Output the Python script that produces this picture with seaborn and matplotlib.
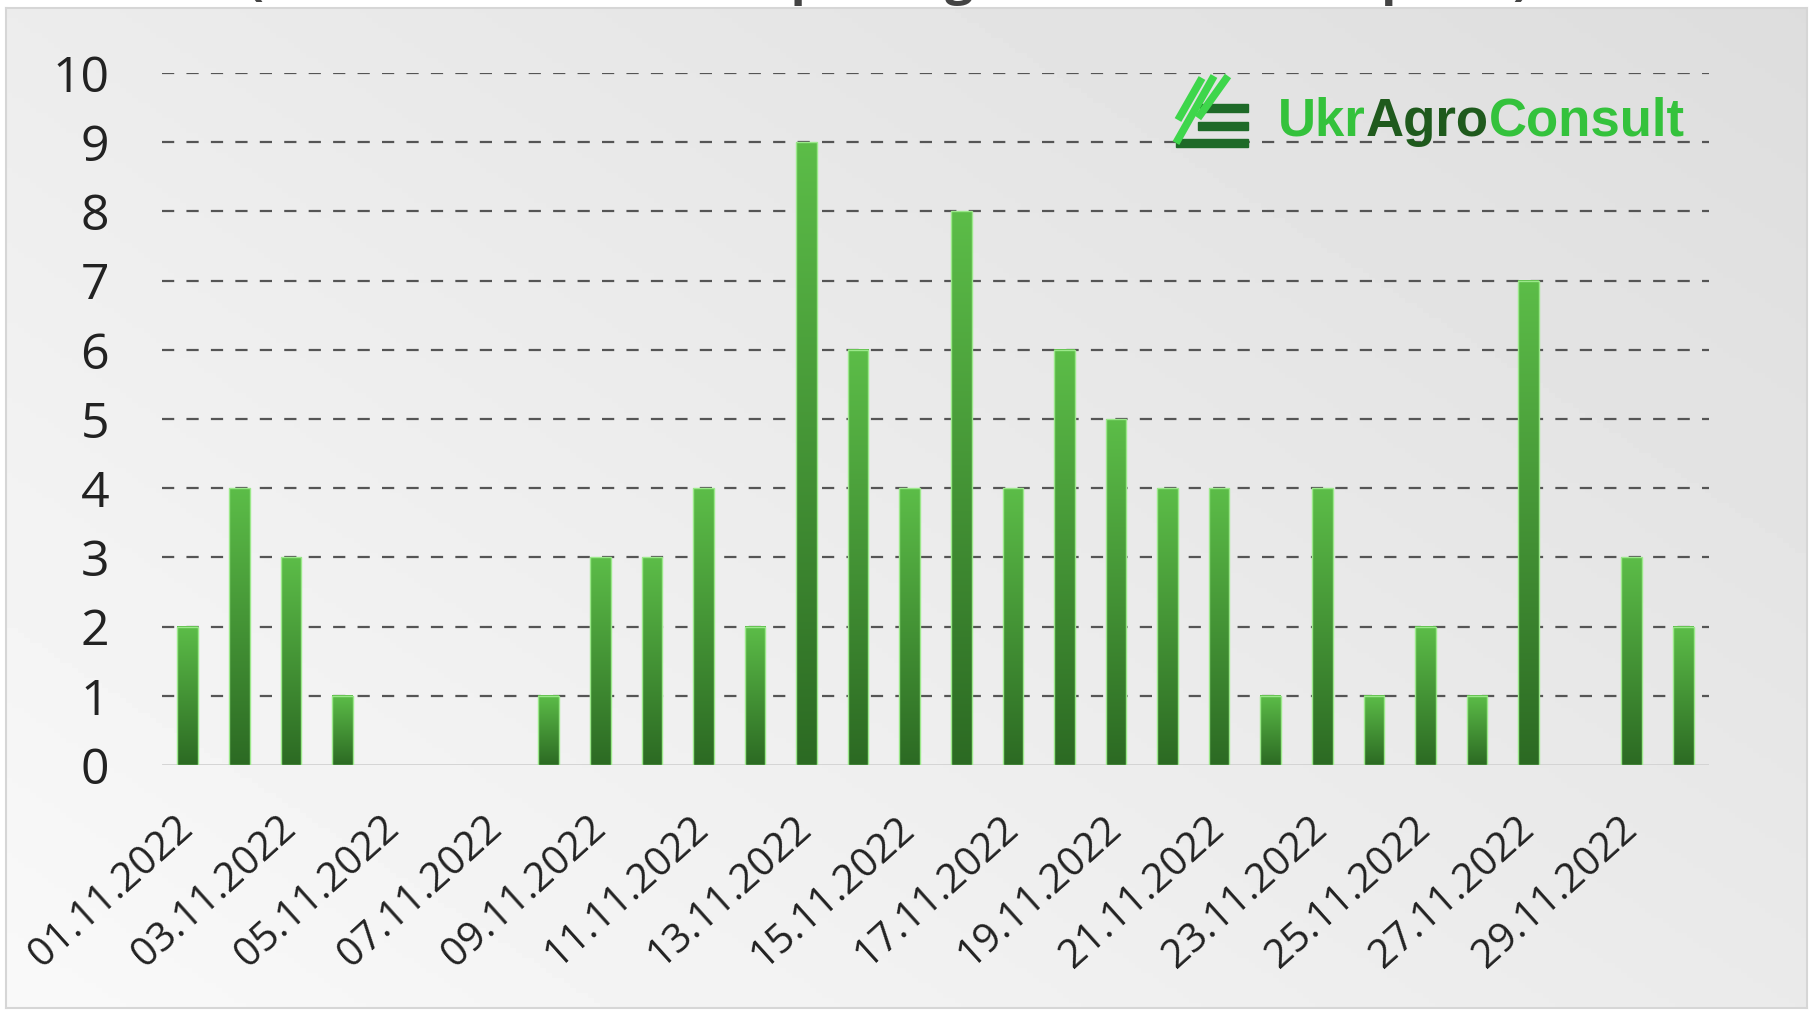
import matplotlib
matplotlib.use("Agg")
import matplotlib.pyplot as plt
from matplotlib.colors import LinearSegmentedColormap
from matplotlib.lines import Line2D
from matplotlib.patches import Rectangle
import seaborn as sns
import numpy as np
import pandas as pd

# data (vessels per day, November 2022)
days = ["01.11.2022", "02.11.2022", "03.11.2022", "04.11.2022", "05.11.2022",
        "06.11.2022", "07.11.2022", "08.11.2022", "09.11.2022", "10.11.2022",
        "11.11.2022", "12.11.2022", "13.11.2022", "14.11.2022", "15.11.2022",
        "16.11.2022", "17.11.2022", "18.11.2022", "19.11.2022", "20.11.2022",
        "21.11.2022", "22.11.2022", "23.11.2022", "24.11.2022", "25.11.2022",
        "26.11.2022", "27.11.2022", "28.11.2022", "29.11.2022", "30.11.2022"]
counts = [2, 4, 3, 1, 0, 0, 0, 1, 3, 3,
          4, 2, 9, 6, 4, 8, 4, 6, 5, 4,
          4, 1, 4, 1, 2, 1, 7, 0, 3, 2]
y_ticks = [0, 1, 2, 3, 4, 5, 6, 7, 8, 9, 10]
title_text = "(number of vessels departing from Ukrainian ports)"

W, H = 1813, 1017
df = pd.DataFrame({"day": days, "count": counts})

sns.set_theme(style="white")
plt.rcParams["font.family"] = ["Open Sans", "DejaVu Sans"]

fig = plt.figure(figsize=(W / 100, H / 100), dpi=100)
fig.patch.set_facecolor("white")

def fx(x):
    return x / W

def fy(y):
    return 1 - y / H

### panel background (grey gradient, lighter bottom-left)
bg = fig.add_axes([fx(6), fy(1008), fx(1807) - fx(6), fy(8) - fy(1008)], zorder=0)
gx, gy = np.meshgrid(np.linspace(0, 1, 300), np.linspace(1, 0, 200))
shade = 249 - 15 * gx - 13 * gy
bg.imshow(shade, cmap="gray", vmin=0, vmax=255, aspect="auto", extent=[0, 1, 0, 1])
bg.set_xticks([])
bg.set_yticks([])
for s in bg.spines.values():
    s.set_color("#d6d6d6")
    s.set_linewidth(1.5)

### main chart
ax = fig.add_axes([fx(162), fy(765), fx(1709) - fx(162), fy(73) - fy(765)], zorder=1)
ax.patch.set_alpha(0)
sns.barplot(data=df, x="day", y="count", width=0.4, color="#4a9a3a", ax=ax)

green = LinearSegmentedColormap.from_list("bar_green", ["#2c6a23", "#5cbd48"])
grad = np.linspace(1, 0, 256).reshape(-1, 1)
for p in ax.patches:
    h = p.get_height()
    if h <= 0:
        p.set_visible(False)
        continue
    x0 = p.get_x()
    w = p.get_width()
    ax.imshow(grad, cmap=green, vmin=0, vmax=1, aspect="auto",
              extent=[x0, x0 + w, 0, h], zorder=3)
    p.set_facecolor("none")
    p.set_edgecolor("#9be88a")
    p.set_linewidth(1.0)
    p.set_zorder(4)

ax.set_xlim(-0.5, len(days) - 0.5)
ax.set_ylim(0, 10)
ax.set_yticks(y_ticks)
ax.set_yticklabels([str(v) for v in y_ticks])
ax.set_xticks(range(0, len(days), 2))
ax.set_xticklabels(days[::2], rotation=42, ha="right", va="center",
                   rotation_mode="anchor")
ax.tick_params(axis="y", length=0, pad=38, labelsize=36, labelcolor="#222222")
ax.tick_params(axis="x", length=0, pad=42, labelsize=29, labelcolor="#222222")
ax.set_xlabel("")
ax.set_ylabel("")

for v in y_ticks[1:]:
    ax.axhline(v, color="#555555", linewidth=1.6, linestyle=(0, (5.5, 5.5)), zorder=1)
ax.axhline(0, color="#d2d2d2", linewidth=2, zorder=2)
sns.despine(ax=ax, left=True, bottom=True)

### cut-off heading at the very top
fig.text(0.49, fy(-6), title_text, ha="center", va="baseline",
         fontsize=36, fontweight="bold", color="#444444")

### UkrAgroConsult logo
t1 = fig.text(fx(1278), fy(136), "Ukr", ha="left", va="baseline",
              fontsize=38, fontweight="bold", color="#34c23c",
              family="Liberation Sans")
fig.canvas.draw()
r = fig.canvas.get_renderer()
bb = t1.get_window_extent(r)
t2 = fig.text(bb.x1 / W, fy(136), "Agro", ha="left", va="baseline",
              fontsize=38, fontweight="bold", color="#1f5a1d",
              family="Liberation Sans")
bb = t2.get_window_extent(r)
fig.text(bb.x1 / W, fy(136), "Consult", ha="left", va="baseline",
         fontsize=38, fontweight="bold", color="#34c23c",
         family="Liberation Sans")

for yb, xl in [(108, 1200), (126, 1198), (143, 1176)]:
    fig.add_artist(Rectangle((fx(xl), fy(yb + 4)), fx(1248) - fx(xl), 8 / H,
                             transform=fig.transFigure, color="#1e6a28", zorder=5))
for (xa, ya, xb, yb) in [(1176, 143, 1214, 76), (1178, 120, 1202, 78), (1198, 118, 1228, 76)]:
    fig.add_artist(Line2D([fx(xa), fx(xb)], [fy(ya), fy(yb)], transform=fig.transFigure,
                          color="#3ed64b", linewidth=5.5, solid_capstyle="butt", zorder=6))

fig.savefig("out.png", dpi=100, facecolor="white")
